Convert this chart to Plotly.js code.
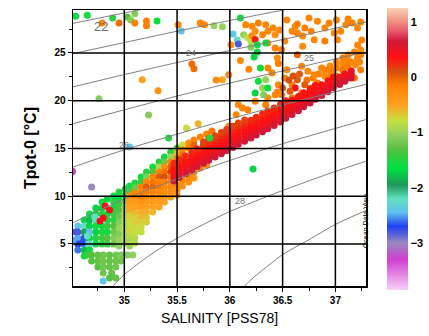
<!DOCTYPE html>
<html>
<head>
<meta charset="utf-8">
<script src="https://cdn.plot.ly/plotly-3.0.1.min.js"></script>
<style>
html, body { margin: 0; padding: 0; background: #fff; }
#chart { width: 429px; height: 336px; }
</style>
</head>
<body>
<div id="chart"></div>
<script>
// Axis ticks
const salTicks = [35, 35.5, 36, 36.5, 37];
const tempTicks = [5, 10, 15, 20, 25];
const valueTicks = [1, 0, -1, -2, -3];

// Isopycnals (sigma-theta): salinity nodes and potential temperature
const isoSal = [34.5, 35, 35.5, 36, 36.5, 37, 37.3];
const iso22Sal = [34.5, 35, 35.5];
const iso22T = [28.07, 29.19, 30.3];
const iso23T = [24.9, 26.09, 27.28, 28.4, 29.49, 30.58, 31.2];
const iso24T = [21.41, 22.74, 24.0, 25.26, 26.41, 27.59, 28.25];
const iso25T = [17.56, 19.05, 20.49, 21.85, 23.12, 24.38, 25.13];
const iso26T = [13.0, 14.86, 16.5, 18.1, 19.56, 20.94, 21.74];
const iso27T = [7.16, 9.7, 11.8, 13.75, 15.5, 17.1, 18.06];
const iso28Sal = [34.8, 34.9, 35, 35.25, 35.5, 35.75, 36, 36.5, 37, 37.3];
const iso28T = [-0.5, 0.7, 1.8, 3.9, 5.6, 7.05, 8.4, 10.6, 12.6, 13.7];
const iso29Sal = [36.0, 36.2, 36.5, 36.75, 37.0, 37.3];
const iso29T = [-1.0, 1.25, 3.89, 5.45, 7.05, 8.56];

// Samples: [salinity, potential temperature, colour value]
const surfaceLayer = [
  [34.54,28.85,-1.6],[34.65,28.95,-1.6],[34.89,28.65,-1.5],[35.03,28.75,-1.3],[35.06,28.45,-1.1],
  [35.10,29.1,-1.1],[34.79,28.15,-0.2],[34.95,28.15,-0.05],[35.10,28.15,-0.15],[35.21,28.35,-0.15],
  [35.21,27.85,-0.15],[35.31,28.35,-1.6],[35.51,27.95,-0.2],[35.54,27.3,-2.4],[35.72,28.15,-0.2],
  [35.76,27.95,-0.2],[35.85,27.85,-1.0],[35.93,27.75,-1.0],[36.10,28.65,-1.6],[36.03,27.0,-2.4],
  [36.07,26.35,-2.2],[36.08,25.95,-2.8],[36.13,26.9,-1.0],[36.17,26.6,-0.75],[36.20,26.2,-0.85],
  [36.21,26.8,-0.3],[36.24,26.4,0.3],[36.26,25.85,-1.6],[36.34,26.05,-1.6],[36.26,25.1,-1.7],
  [36.20,25.6,-1.1]
];

const upperLoop = [
  [36.15,27.96,-0.2],[36.21,27.8,-0.25],[36.27,28.14,-0.15],[36.34,27.96,-0.2],[36.36,27.27,-0.25],
  [36.41,27.62,-0.2],[36.43,26.92,-0.3],[36.31,26.92,-0.2],[36.24,27.27,-0.3],[36.01,25.87,-0.35],
  [36.36,26.05,-0.2],[36.43,25.52,-0.15],[36.52,26.26,-0.25],[36.59,27.27,-0.2],[36.64,27.09,-0.15],
  [36.69,26.78,-0.25],[36.62,27.8,-0.2],[36.71,27.62,-0.15],[36.77,27.27,-0.2],[36.83,28.32,-0.2],
  [36.90,27.62,-0.25],[36.94,28.14,-0.15],[36.99,27.09,-0.2],[37.02,26.39,-0.25],[37.05,27.27,-0.2],
  [37.10,27.96,-0.2],[37.16,28.14,-0.15],[37.21,27.62,-0.2],[36.90,26.26,-0.15],[36.80,26.39,-0.2],
  [36.69,25.7,-0.25],[36.64,24.82,0.0],[36.49,25.35,-0.2],[36.45,24.48,-0.25],[36.36,23.43,-0.2],
  [36.54,28.46,-0.2],[36.64,28.04,-0.15],[36.75,28.67,-0.2],[37.01,28.46,-0.2],[37.12,28.56,-0.15],
  [37.24,28.25,-0.2],[36.47,27.41,-0.25],
  [37.21,24.48,-0.2],[37.24,24.82,-0.15],[37.19,23.77,-0.2],[37.24,23.25,-0.15],[37.15,23.08,-0.2],
  [37.11,22.38,-0.1],[37.08,22.73,-0.15],[37.18,22.38,-0.1],[37.21,25.84,-0.2],[37.24,25.31,-0.25],
  [37.15,24.06,-0.2],[37.25,26.36,-0.2],
  [37.01,24.06,-0.2],[37.07,24.48,-0.15],[37.12,24.79,-0.2],[37.18,25.1,-0.2],[37.01,23.43,-0.15],
  [37.07,23.85,-0.2],[37.12,24.16,-0.15],[37.07,23.22,-0.1],[37.12,23.53,-0.15],[37.23,24.06,-0.2],
  [36.95,23.64,-0.2],[36.90,23.22,-0.15],[36.84,22.8,-0.2],[36.79,22.38,-0.15],[36.73,22.17,-0.1],
  [36.95,22.59,-0.15],[37.01,22.59,-0.1],
  [36.52,22.38,-0.2],[36.59,21.68,-0.15],[36.64,22.2,0.05],[36.71,21.68,0.05],[36.77,21.34,-0.1],
  [36.83,21.86,-0.15],[36.90,22.56,-0.2],[36.80,22.73,-0.2],[36.74,23.08,-0.25],[36.87,23.43,-0.2],
  [36.96,23.08,-0.15],[36.68,23.6,-0.2],[36.54,23.25,-0.25],[36.46,21.68,-0.2],[36.49,20.63,-0.15],
  [36.59,20.29,-0.1],[36.68,20.81,-0.1],[36.62,21.34,0.4],[36.57,20.99,0.05],[36.56,22.17,0.1],
  [36.60,22.59,0.1],[36.66,22.8,0.05],[36.50,21.34,0.05],[36.45,20.92,-0.2],
  [35.93,22.2,-0.5],[35.99,22.73,-0.25],[36.12,19.24,-0.2],[36.08,19.59,-0.25],[36.17,19.06,-0.15],
  [36.06,18.54,-0.2],[35.99,17.32,-0.25],[36.24,19.94,-0.2],[36.34,19.59,-0.15],[36.36,20.29,-0.2],
  [36.43,20.63,-0.2],[35.87,22.17,-0.3],
  [36.10,24.2,-0.25],[36.18,23.3,-0.2],[36.40,22.9,-0.2],[36.46,23.9,-0.15]
];

const greenPatch = [
  [36.27,22.04,-1.6],[36.34,22.2,-1.0],[36.31,21.34,-1.0],[36.36,21.34,-1.6],[36.24,20.81,-1.7],
  [36.32,20.63,-1.1],[36.29,23.43,-1.6],[36.23,24.58,-1.7]
];

const midBand = [
  [35.05,11.07,-1.6],[35.05,10.55,-1.3],[35.05,10.03,-0.3],[35.05,9.50,-0.45],[35.05,8.98,-0.5],
  [35.05,8.46,-0.55],[35.05,7.93,-0.7],[35.05,7.41,-0.75],[35.05,6.88,-0.8],[35.05,6.36,-0.75],
  [35.05,5.84,-0.85],[35.05,5.31,-0.9],[35.05,4.79,-1.0],
  [35.10,11.39,-1.5],[35.10,10.86,-1.2],[35.10,10.34,-0.2],[35.10,9.82,-0.3],[35.10,9.29,-0.45],
  [35.10,8.77,-0.5],[35.10,8.25,-0.6],[35.10,7.72,-0.7],[35.10,7.20,-0.7],[35.10,6.68,-0.75],
  [35.10,6.15,-0.8],[35.10,5.63,-0.85],[35.10,5.10,-0.9],
  [35.16,12.02,-1.6],[35.16,11.49,-1.4],[35.16,10.97,-0.15],[35.16,10.45,-0.2],[35.16,9.92,-0.1],
  [35.16,9.40,-0.35],[35.16,8.87,-0.45],[35.16,8.35,-0.55],[35.16,7.83,-0.6],[35.16,7.30,-0.7],
  [35.16,6.78,-0.75],[35.16,6.26,-0.8],
  [35.21,12.54,-1.5],[35.21,12.02,-1.1],[35.21,11.49,-0.2],[35.21,10.97,0.05],[35.21,10.45,-0.15],
  [35.21,9.92,-0.25],[35.21,9.40,-0.4],[35.21,8.87,-0.5],[35.21,8.35,-0.55],[35.21,7.83,-0.65],
  [35.21,7.30,-0.7],
  [35.27,13.06,-1.6],[35.27,12.54,-1.3],[35.27,12.02,-0.2],[35.27,11.49,-0.1],[35.27,10.97,0.0],
  [35.27,10.45,-0.2],[35.27,9.92,-0.3],[35.27,9.40,-0.4],[35.27,8.87,-0.5],[35.27,8.35,-0.6],
  [35.33,13.59,-1.5],[35.33,13.06,-0.9],[35.33,12.54,-0.2],[35.33,12.02,0.05],[35.33,11.49,-0.15],
  [35.33,10.97,-0.1],[35.33,10.45,-0.25],[35.33,9.92,-0.35],[35.33,9.40,-0.45],[35.33,8.87,-0.5],
  [35.38,14.11,-1.6],[35.38,13.59,-1.2],[35.38,13.06,-0.3],[35.38,12.54,-0.1],[35.38,12.02,0.1],
  [35.38,11.49,-0.2],[35.38,10.97,-0.25],[35.38,10.45,-0.3],[35.38,9.92,-0.4],[35.38,9.40,-0.5],
  [35.44,14.63,-1.5],[35.44,14.11,-1.0],[35.44,13.59,-0.2],[35.44,13.06,0.0],[35.44,12.54,0.2],
  [35.44,12.02,-0.1],[35.44,11.49,-0.2],[35.44,10.97,-0.25],[35.44,10.45,-0.3],[35.44,9.92,-0.45],
  [35.50,15.05,-1.4],[35.50,14.53,-0.6],[35.50,14.01,-0.15],[35.50,11.18,-0.2],[35.50,10.65,-0.25],
  [35.50,10.13,-0.35],
  [35.55,15.37,-0.8],[35.55,14.84,-0.2],[35.55,14.32,-0.1],[35.55,11.70,-0.2],[35.55,11.07,-0.3],
  [35.61,15.58,-0.3],[35.61,15.05,-0.15],[35.61,12.12,-0.15],[35.61,11.49,-0.3],
  [35.66,15.89,-0.2],[35.66,15.37,0.0],[35.66,12.54,-0.2],[35.66,11.91,-0.35],
  [35.72,16.20,-0.15],[35.72,12.96,-0.2],[35.78,16.52,-0.2],[35.78,13.27,-0.25],[35.83,16.83,-0.1]
];

const coldBranch = [
  [34.56,6.88,-2.4],[34.56,6.26,-2.8],[34.56,5.63,-2.5],[34.56,5.0,-2.7],[34.56,4.37,-2.6],
  [34.62,7.51,-1.7],[34.62,6.88,-2.2],[34.62,6.26,-1.9],[34.62,5.63,-2.75],[34.62,5.0,-2.45],
  [34.62,4.37,-1.8],[34.62,3.74,-1.6],
  [34.67,8.14,-1.6],[34.67,7.51,-1.8],[34.67,6.88,-1.7],[34.67,6.26,-2.45],[34.67,5.63,-1.7],
  [34.67,5.0,-2.2],[34.67,4.37,-1.6],
  [34.73,8.77,-1.7],[34.73,8.14,-1.6],[34.73,7.51,-2.2],[34.73,6.88,-1.6],[34.73,6.26,-1.7],
  [34.73,5.63,-1.5],[34.73,5.0,-1.6],
  [34.79,9.40,-1.6],[34.79,8.77,-1.7],[34.79,8.14,-1.5],[34.79,6.88,-1.6],[34.79,6.26,-1.5],
  [34.79,5.63,-1.4],[34.79,5.0,-1.5],
  [34.84,9.71,-1.7],[34.84,8.14,-1.6],[34.84,7.51,-1.5],[34.84,6.88,-1.4],[34.84,6.26,-1.6],
  [34.84,5.63,-1.3],[34.84,5.0,-1.4],
  [34.90,10.03,-1.6],[34.90,9.40,-1.5],[34.90,8.77,-1.6],[34.90,8.14,-1.4],[34.90,7.51,-1.5],
  [34.90,6.88,-1.3],[34.90,6.26,-1.2],[34.90,5.63,-1.1],[34.90,5.0,-1.2],
  [34.95,10.45,-1.5],[34.95,9.82,-1.6],[34.95,9.19,-1.4],[34.95,8.56,-1.3],[34.95,7.93,-1.2],
  [34.95,7.30,-1.1],[34.95,6.68,-1.0],[34.95,6.05,-1.1],[34.95,5.42,-1.0],[34.95,4.79,-1.05],
  [35.01,10.76,-1.6],[35.01,10.13,-1.5],[35.01,9.50,-1.2],[35.01,8.87,-1.0],[35.01,8.25,-0.95],
  [35.01,7.62,-0.9],[35.01,6.99,-0.9],[35.01,6.36,-0.85],[35.01,5.73,-0.9],[35.01,5.10,-0.95],
  [34.54,6.26,-2.8],[34.52,5.42,-2.5],[34.60,5.10,-2.75],[34.72,7.83,-2.2],[34.65,5.84,-2.2],
  [34.64,3.85,-1.5],[34.69,3.85,-1.3],[34.75,3.85,-1.25],[34.80,3.85,-1.2],[34.86,3.85,-1.25],
  [34.92,3.85,-1.2],[34.97,3.85,-1.15],[35.03,3.85,-1.1],[35.08,3.85,-1.05],
  [34.69,3.22,-1.3],[34.75,3.22,-1.25],[34.80,3.22,-1.2],[34.86,3.22,-1.25],[34.92,3.22,-1.2],
  [34.97,3.22,-1.2],
  [34.75,2.59,-1.3],[34.80,2.59,-1.2],[34.86,2.59,-1.25],[34.92,2.59,-1.2],
  [34.80,1.96,-1.2],[34.88,1.96,-1.25],[34.86,1.44,-1.3],[34.92,1.44,-1.25],[34.80,1.13,-2.4],
  [34.86,8.56,0.45],[34.82,8.98,0.45],[34.77,7.41,0.45],[34.80,7.72,0.4]
];

// Dense warm band: salinity columns and potential temperature of each row
const bandSal = [35.47,35.52,35.58,35.64,35.69,35.75,35.80,35.86,35.92,35.97,36.03,36.08,36.14,36.20,36.25,
  36.31,36.36,36.42,36.48,36.53,36.59,36.65,36.70,36.76,36.81,36.87,36.93,36.98,37.04,37.09,37.15];
const bandRow0T = [11.60,11.97,12.35,12.73,13.10,13.45,13.77,14.11,14.45,14.78,15.10,15.44,15.76,16.10,16.42,
  16.75,17.07,17.40,17.77,18.16,18.56,18.96,19.36,19.75,20.15,20.55,20.95,21.35,21.71,22.05,22.38];
const bandRow1T = [11.97,12.34,12.72,13.10,13.47,13.82,14.14,14.48,14.82,15.15,15.47,15.81,16.13,16.47,16.79,
  17.12,17.44,17.77,18.14,18.53,18.93,19.33,19.73,20.12,20.52,20.92,21.32,21.72,22.08,22.42,22.75];
const bandRow2T = [12.34,12.71,13.09,13.47,13.84,14.19,14.51,14.85,15.19,15.52,15.84,16.18,16.50,16.84,17.16,
  17.49,17.81,18.14,18.51,18.90,19.30,19.70,20.10,20.49,20.89,21.29,21.69,22.09,22.45,22.79,23.12];
const bandRow3T = [12.71,13.08,13.46,13.84,14.21,14.56,14.88,15.22,15.56,15.89,16.21,16.55,16.87,17.21,17.53,
  17.86,18.18,18.51,18.88,19.27,19.67,20.07,20.47,20.86,21.26,21.66,22.06,22.46];
const bandRow4T = [13.08,13.45,13.83,14.21,14.58,14.93,15.25,15.59,15.93,16.26,16.58,16.92,17.24,17.58,17.90,
  18.23,18.55,18.88,19.25,19.64,20.04,20.44,20.84,21.23,21.63];
const bandRow5T = [13.45,13.82,14.20,14.58,14.95,15.30,15.62,15.96,16.30,16.63,16.95,17.29,17.61,17.95,18.27,
  18.60,18.92,19.25,19.62,20.01];
const bandRow6T = [15.67,15.99,16.33,16.67,17.00,17.32,17.66,17.98];
// first column of each row, and its colour value
const bandRowStart = [0, 0, 0, 0, 0, 0, 5];
const bandRowValue = [0.65, 0.58, 0.45, 0.4, 0.33, 0.25, 0.15];
const bandRows = [bandRow0T, bandRow1T, bandRow2T, bandRow3T, bandRow4T, bandRow5T, bandRow6T];

const isolated = [
  [34.69,10.97,-3.0],[34.51,12.6,-3.3],[34.76,20.2,-1.1],[35.17,22.2,-0.5],[35.32,21.05,-0.35],
  [35.23,18.5,-1.1],[35.59,17.15,-0.75],[35.70,17.6,-0.6],[35.42,16.1,-1.5],[35.81,16.1,-1.5],
  [35.64,23.85,-0.05],[35.66,23.35,-0.05],[35.05,15.15,-2.4],[36.22,12.85,-1.7]
];

// Colour scale of the colour bar
const valueMin = -3.85, valueMax = 1.25;
const colourStops = [
  [-3.85, '#f8d0f8'], [-3.3, '#d040d0'], [-3.0, '#9888c0'], [-2.7, '#2040f0'],
  [-2.45, '#60c0f0'], [-2.2, '#60e0c0'], [-1.95, '#209858'], [-1.65, '#00e040'],
  [-1.3, '#58c040'], [-1.05, '#90d060'], [-0.78, '#c8e040'], [-0.5, '#ffa020'],
  [-0.15, '#ff8000'], [0.1, '#d85010'], [0.35, '#ff1010'], [0.65, '#d01838'],
  [0.85, '#e86070'], [1.0, '#f09080'], [1.25, '#fad2b4']
];
const colourscale = colourStops.map(([v, c]) => [(v - valueMin) / (valueMax - valueMin), c]);

const warmBand = [];
bandRows.forEach((row, r) => row.forEach((t, i) =>
  warmBand.push([bandSal[i + bandRowStart[r]], t, bandRowValue[r]])));

const groups = [coldBranch, midBand, upperLoop, greenPatch, surfaceLayer, warmBand, isolated];
const samples = [].concat(...groups);

const font = 'Liberation Sans, Arial, sans-serif';

const traces = [{
  type: 'scatter', mode: 'markers',
  x: samples.map(r => r[0]), y: samples.map(r => r[1]),
  marker: {
    size: 7, symbol: 'circle', line: {width: 0},
    color: samples.map(r => r[2]), colorscale: colourscale,
    cmin: valueMin, cmax: valueMax,
    colorbar: {
      thickness: 21, len: 282, lenmode: 'pixels',
      x: 1.068, xanchor: 'left', xpad: 0,
      y: 0.496, yanchor: 'middle', ypad: 0,
      outlinewidth: 0, tickvals: valueTicks, ticks: '',
      tickfont: {family: font, size: 11, weight: 'bold', color: '#000'}
    }
  },
  hoverinfo: 'skip', showlegend: false
}];

const isoLines = [
  [iso22Sal, iso22T], [isoSal, iso23T], [isoSal, iso24T], [isoSal, iso25T],
  [isoSal, iso26T], [isoSal, iso27T], [iso28Sal, iso28T], [iso29Sal, iso29T]
];
isoLines.forEach(([s, t]) => traces.push({
  type: 'scatter', mode: 'lines', x: s, y: t,
  line: {color: '#808080', width: 1, shape: 'spline', smoothing: 0.6},
  hoverinfo: 'skip', showlegend: false
}));

// Grid drawn above the samples
const gridShapes = [];
salTicks.forEach(s => gridShapes.push({type: 'line', xref: 'x', yref: 'paper', x0: s, x1: s, y0: 0, y1: 1,
  line: {color: '#000', width: 1.5}, layer: 'above'}));
tempTicks.forEach(t => gridShapes.push({type: 'line', xref: 'paper', yref: 'y', x0: 0, x1: 1, y0: t, y1: t,
  line: {color: '#000', width: 1.5}, layer: 'above'}));

const isoLabel = (text, x, y, size) => ({text, x, y, xref: 'x', yref: 'y', showarrow: false,
  font: {family: font, size: size, color: '#707070'}});

const layout = {
  width: 429, height: 336,
  margin: {l: 73, r: 62, t: 10, b: 50},
  paper_bgcolor: '#fff', plot_bgcolor: '#fff',
  xaxis: {
    range: [34.514, 37.29], tickvals: salTicks, ticktext: salTicks.map(String),
    ticks: 'outside', ticklen: 4, tickcolor: '#000', tickwidth: 1,
    showgrid: false, zeroline: false, showline: true, mirror: true, linecolor: '#000', linewidth: 1.5,
    tickfont: {family: font, size: 10, weight: 'bold', color: '#000'},
    minor: {ticks: 'outside', ticklen: 3, dtick: 0.25, tick0: 0, tickcolor: '#000', showgrid: false},
    title: {text: 'SALINITY [PSS78]', font: {family: font, size: 14, color: '#000'}, standoff: 8}
  },
  yaxis: {
    range: [0.6, 29.5], tickvals: tempTicks, ticktext: tempTicks.map(String),
    ticks: 'outside', ticklen: 4, tickcolor: '#000', tickwidth: 1,
    showgrid: false, zeroline: false, showline: true, mirror: true, linecolor: '#000', linewidth: 1.5,
    tickfont: {family: font, size: 10, weight: 'bold', color: '#000'},
    minor: {ticks: 'outside', ticklen: 3, dtick: 2.5, tick0: 0, tickcolor: '#000', showgrid: false},
    title: {text: 'Tpot-0 [°C]', font: {family: font, size: 16, weight: 'bold', color: '#000'}, standoff: 14}
  },
  shapes: gridShapes,
  annotations: [
    isoLabel('22', 34.78, 27.8, 13),
    isoLabel('24', 35.63, 25.0, 9),
    isoLabel('25', 36.75, 24.5, 9),
    isoLabel('26', 35.0, 15.4, 9),
    isoLabel('28', 36.1, 9.5, 9),
    {text: 'Ocean Data View', xref: 'paper', yref: 'paper', x: 1.017, y: 0.13, textangle: -90,
     showarrow: false, font: {family: font, size: 7, color: '#000'}}
  ]
};

Plotly.newPlot('chart', traces, layout, {displayModeBar: false, staticPlot: true});
</script>
</body>
</html>
